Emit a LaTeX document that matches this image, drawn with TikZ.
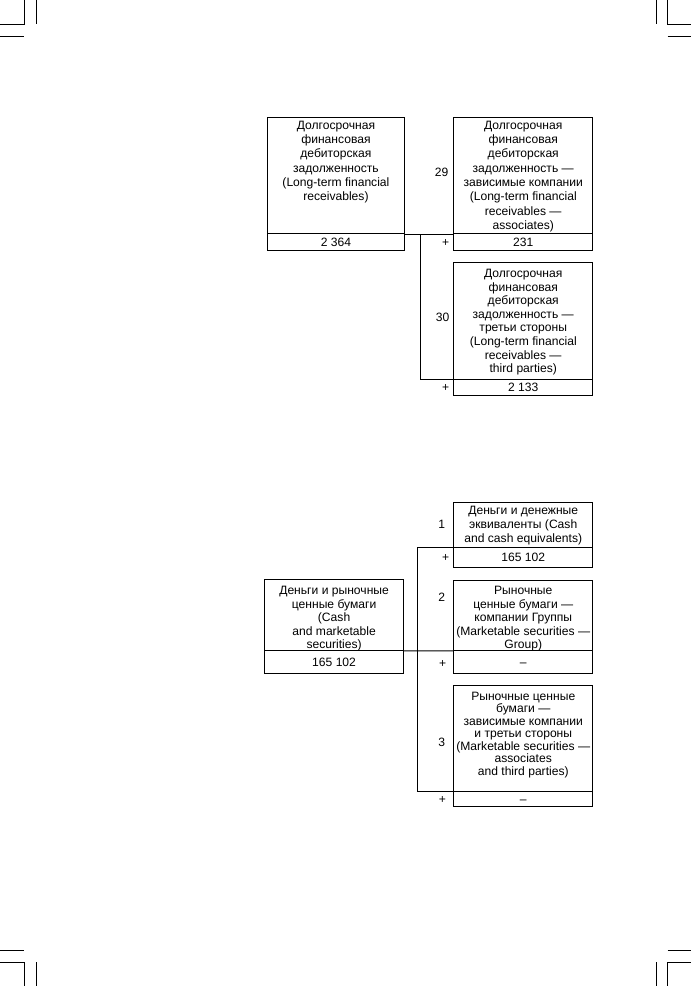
\documentclass[tikz,border=0pt]{standalone}
\usepackage{fontspec}
\setmainfont{Liberation Sans}
\newcommand\fl{\rule{0pt}{10pt}}
\tikzset{
  frame/.style={draw, line width=0.9pt, inner sep=0pt, anchor=north west, minimum width=139pt},
  txt/.style={anchor=north, align=center, inner sep=0pt},
  lbl/.style={inner sep=0pt, text height=8.8pt, text depth=0pt, font=\fontsize{12.1}{14}\selectfont},
  conn/.style={line width=0.9pt},
  crop/.style={line width=0.9pt}
}
\begin{document}
\begin{tikzpicture}[x=1pt,y=-1pt]
\useasboundingbox (0,0) rectangle (691,986);
% crop marks
\draw[crop] (24.3,0) -- (24.3,24.3) -- (0,24.3);
\draw[crop] (36,0) -- (36,24.3);
\draw[crop] (0,36) -- (24.3,36);
\draw[crop] (656.7,0) -- (656.7,24.3);
\draw[crop] (667.7,0) -- (667.7,24.3) -- (691,24.3);
\draw[crop] (667.7,36) -- (691,36);
\draw[crop] (0,950.7) -- (24.3,950.7);
\draw[crop] (0,962.3) -- (24.3,962.3) -- (24.3,986);
\draw[crop] (36,962.3) -- (36,986);
\draw[crop] (667.7,950.7) -- (691,950.7);
\draw[crop] (691,962.3) -- (667.7,962.3) -- (667.7,986);
\draw[crop] (656.7,962.3) -- (656.7,986);

% ===== top diagram =====
\node[frame, minimum width=137.6pt, minimum height=116.6pt] (TL) at (266.7,116.7) {};
\node[frame, minimum width=137.6pt, minimum height=16.7pt, lbl] (TLv) at (266.7,233.3) {2 364};
\node[frame, minimum height=116.6pt] (TR1) at (453.3,116.7) {};
\node[frame, minimum height=16.7pt, lbl] (TR1v) at (453.3,233.3) {231};
\node[frame, minimum height=116.7pt] (TR2) at (453.3,262.3) {};
\node[frame, minimum height=16pt, lbl] (TR2v) at (453.3,379) {2 133};

\node[txt, font=\fontsize{12.1}{14.3}\selectfont, yshift=-2.3pt] (TLt) at (TL.north)
  {\fl Долгосрочная\\финансовая\\дебиторская\\задолженность\\(Long-term financial\\receivables)};
\node[txt, font=\fontsize{12.1}{14.3}\selectfont, yshift=-2.3pt] (TR1t) at (TR1.north)
  {\fl Долгосрочная\\финансовая\\дебиторская\\задолженность —\\зависимые компании\\(Long-term financial\\receivables —\\associates)};
\node[txt, font=\fontsize{12.1}{13.6}\selectfont, yshift=-5pt] (TR2t) at (TR2.north)
  {\fl Долгосрочная\\финансовая\\дебиторская\\задолженность —\\третьи стороны\\(Long-term financial\\receivables —\\third parties)};

\node[lbl] (n29) at (441.7,171.7) {29};
\node[lbl] (n30) at (442.7,316.7) {30};
\node[lbl] (p1) at (445.7,241.7) {+};
\node[lbl] (p2) at (445.7,387.2) {+};

\coordinate (c1) at (420,0);
\draw[conn] (TL.south east) -- (TR1.south west);
\draw[conn] (c1 |- TL.south) -- (c1 |- TR2.south) -- (TR2.south west);

% ===== bottom diagram =====
\node[frame, minimum height=44.4pt] (B1) at (453.3,502.3) {};
\node[frame, minimum height=20pt, lbl] (B1v) at (453.3,546.7) {165 102};
\node[frame, minimum height=70pt] (B2) at (453.3,580) {};
\node[frame, minimum height=23.3pt, lbl] (B2v) at (453.3,650) {–};
\node[frame, minimum width=139.3pt, minimum height=70.7pt] (BL) at (264,579.3) {};
\node[frame, minimum width=139.3pt, minimum height=23.3pt, lbl] (BLv) at (264,650) {165 102};
\node[frame, minimum height=105.7pt] (B3) at (453.3,685) {};
\node[frame, minimum height=15pt, lbl] (B3v) at (453.3,790.7) {–};

\node[txt, font=\fontsize{12.1}{14.2}\selectfont, yshift=-1.7pt] (B1t) at (B1.north)
  {\fl Деньги и денежные\\эквиваленты (Cash\\and cash equivalents)};
\node[txt, font=\fontsize{12.1}{13.5}\selectfont, yshift=-4.4pt] (B2t) at (B2.north)
  {\fl Рыночные\\ценные бумаги —\\компании Группы\\(Marketable securities —\\Group)};
\node[txt, font=\fontsize{12.1}{13.5}\selectfont, yshift=-5.1pt] (BLt) at (BL.north)
  {\fl Деньги и рыночные\\ценные бумаги\\(Cash\\and marketable\\securities)};
\node[txt, font=\fontsize{12.1}{12.5}\selectfont, yshift=-5pt] (B3t) at (B3.north)
  {\fl Рыночные ценные\\бумаги —\\зависимые компании\\и третьи стороны\\(Marketable securities —\\associates\\and third parties)};

\node[lbl] (n1) at (441.7,524.3) {1};
\node[lbl] (n2) at (441.7,596.7) {2};
\node[lbl] (n3) at (441.7,741.7) {3};
\node[lbl] (p3) at (445.7,556.7) {+};
\node[lbl] (p4) at (442.7,663.3) {+};
\node[lbl] (p5) at (442.3,798.8) {+};

\coordinate (c2) at (417.7,0);
\draw[conn] (BL.south east) -- (B2.south west);
\draw[conn] (B1.south west) -- (c2 |- B1.south) -- (c2 |- B3.south) -- (B3.south west);
\end{tikzpicture}
\end{document}
